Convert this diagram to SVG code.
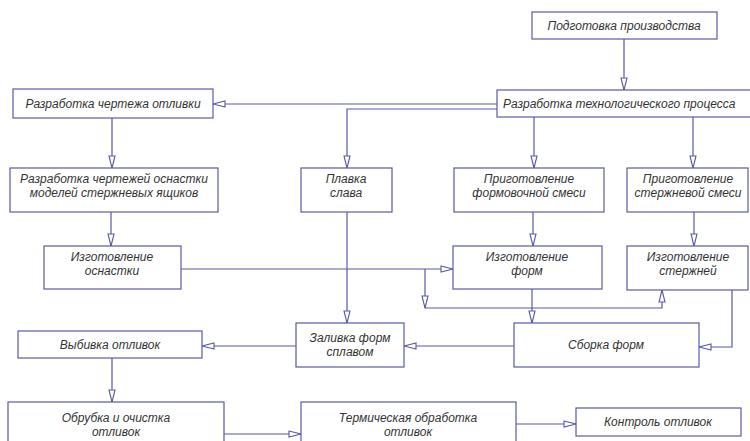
<svg xmlns="http://www.w3.org/2000/svg" width="750" height="441" viewBox="0 0 750 441">
<defs>
<marker id="ah" markerUnits="userSpaceOnUse" markerWidth="14" markerHeight="10" viewBox="0 0 14 10" refX="13" refY="5" orient="auto">
<path d="M1,2 L13,5 L1,8 Z" fill="#fff" stroke="#5a5aa8" stroke-width="1.1"/>
</marker>
<style>
rect{fill:#fff;stroke:#5a5aa8;stroke-width:1.2}
text{font-family:"Liberation Sans","DejaVu Sans",sans-serif;font-style:italic;font-size:12px;fill:#333;text-anchor:middle}
.c path{fill:none;stroke:#5a5aa8;stroke-width:1.2}
.a{marker-end:url(#ah)}
</style>
</defs>
<rect x="0" y="0" width="750" height="441" style="fill:#fff;stroke:none"/>
<g class="c" id="connectors">
<path class="a" d="M624,39 V90"/>
<path class="a" d="M497,104 H213"/>
<path class="a" d="M497,109 H347 V168"/>
<path class="a" d="M534,117 V168"/>
<path class="a" d="M693,117 V168"/>
<path class="a" d="M112,118 V168"/>
<path class="a" d="M111,212 V246"/>
<path class="a" d="M533,212 V246"/>
<path class="a" d="M694,212 V246"/>
<path class="a" d="M181,269 H453"/>
<path class="a" d="M425,269 V308"/>
<path class="a" d="M425,308 H662 V290"/>
<path class="a" d="M347,212 V323"/>
<path class="a" d="M532,289 V323"/>
<path class="a" d="M732,290 V347 H699"/>
<path class="a" d="M514,346 H404"/>
<path class="a" d="M296,346 H202"/>
<path class="a" d="M112,358 V402"/>
<path class="a" d="M224,434 H301"/>
<path class="a" d="M516,424 H576"/>
</g>
<g id="n1"><rect x="532" y="12" width="185" height="27"/><text x="624" y="30">Подготовка производства</text></g>
<g id="n2"><rect x="497" y="90" width="260" height="27"/><text x="503" y="108" style="text-anchor:start">Разработка технологического процесса</text></g>
<g id="n3"><rect x="13" y="89" width="200" height="29"/><text x="113" y="108">Разработка чертежа отливки</text></g>
<g id="n4"><rect x="10" y="168" width="208" height="44"/><text x="114" y="183">Разработка чертежей оснастки</text><text x="114" y="197">моделей стержневых ящиков</text></g>
<g id="n5"><rect x="301" y="168" width="91" height="44"/><text x="346" y="183">Плавка</text><text x="346" y="197">слава</text></g>
<g id="n6"><rect x="454" y="168" width="150" height="44"/><text x="529" y="183">Приготовление</text><text x="529" y="197">формовочной смеси</text></g>
<g id="n7"><rect x="627" y="168" width="121" height="44"/><text x="688" y="183">Приготовление</text><text x="688" y="197">стержневой смеси</text></g>
<g id="n8"><rect x="44" y="246" width="137" height="43"/><text x="112" y="261">Изготовление</text><text x="112" y="275">оснастки</text></g>
<g id="n9"><rect x="453" y="246" width="149" height="43"/><text x="527" y="261">Изготовление</text><text x="527" y="275">форм</text></g>
<g id="n10"><rect x="627" y="246" width="121" height="44"/><text x="688" y="261">Изготовление</text><text x="688" y="275">стержней</text></g>
<g id="n11"><rect x="18" y="331" width="184" height="27"/><text x="110" y="349">Выбивка отливок</text></g>
<g id="n12"><rect x="296" y="323" width="108" height="44"/><text x="350" y="342">Заливка форм</text><text x="350" y="356">сплавом</text></g>
<g id="n13"><rect x="514" y="323" width="185" height="44"/><text x="606" y="349">Сборка форм</text></g>
<g id="n14"><rect x="8" y="402" width="216" height="45"/><text x="116" y="422">Обрубка и очистка</text><text x="116" y="436">отливок</text></g>
<g id="n15"><rect x="301" y="402" width="215" height="45"/><text x="408" y="422">Термическая обработка</text><text x="408" y="436">отливок</text></g>
<g id="n16"><rect x="576" y="408" width="165" height="28"/><text x="658" y="426">Контроль отливок</text></g>
</svg>
